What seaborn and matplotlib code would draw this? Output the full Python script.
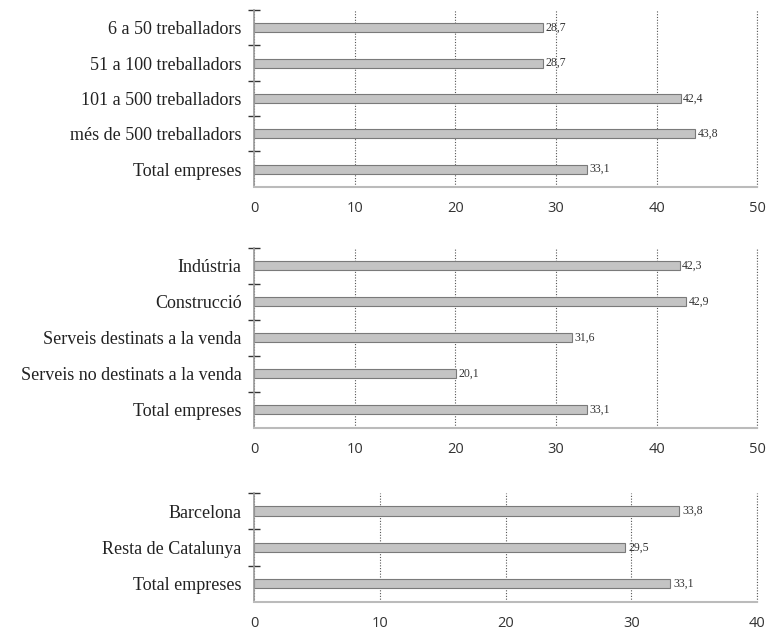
import matplotlib
matplotlib.use("Agg")
import matplotlib.pyplot as plt
import seaborn as sns
import pandas as pd

# Dades de cada bloc
mida_cat = ["6 a 50 treballadors", "51 a 100 treballadors", "101 a 500 treballadors",
            "més de 500 treballadors", "Total empreses"]
mida_val = [28.7, 28.7, 42.4, 43.8, 33.1]

sector_cat = ["Indústria", "Construcció", "Serveis destinats a la venda",
              "Serveis no destinats a la venda", "Total empreses"]
sector_val = [42.3, 42.9, 31.6, 20.1, 33.1]

territori_cat = ["Barcelona", "Resta de Catalunya", "Total empreses"]
territori_val = [33.8, 29.5, 33.1]

blocs = [
    (mida_cat, mida_val, 50, [0.331, 0.704, 0.655, 0.280]),
    (sector_cat, sector_val, 50, [0.331, 0.322, 0.655, 0.285]),
    (territori_cat, territori_val, 40, [0.331, 0.046, 0.655, 0.173]),
]

sns.set_style("white")
serif = ["Liberation Serif", "DejaVu Serif"]
sans = ["Open Sans", "DejaVu Sans"]
grid_style = dict(linestyle=(0, (1, 1.5)), color="#555555", linewidth=0.8)

fig = plt.figure(figsize=(7.68, 6.31), dpi=100)

for cats, vals, xmax, pos in blocs:
    ax = fig.add_axes(pos)
    df = pd.DataFrame({"cat": cats, "val": vals})
    sns.barplot(data=df, x="val", y="cat", orient="h", ax=ax, width=0.25,
                color="#c4c4c4", edgecolor="#7a7a7a", linewidth=0.8, saturation=1)
    for i, v in enumerate(vals):
        ax.text(v + 0.25, i, f"{v:.1f}".replace(".", ","), va="center", ha="left",
                fontsize=8.5, family=serif, color="#333333")
    ax.set_xlim(0, xmax)
    ax.set_ylim(len(cats) - 0.5, -0.5)
    ax.set_xticks(range(0, xmax + 1, 10))
    ax.xaxis.grid(True, **grid_style)
    ax.axvline(xmax, clip_on=False, zorder=0, **grid_style)
    ax.set_axisbelow(True)
    ax.set_xlabel("")
    ax.set_ylabel("")
    for s in ["top", "right"]:
        ax.spines[s].set_visible(False)
    ax.spines["bottom"].set_color("#bbbbbb")
    ax.spines["bottom"].set_linewidth(1.5)
    ax.spines["left"].set_color("#999999")
    ax.spines["left"].set_linewidth(1.2)
    ax.tick_params(axis="x", length=0, labelsize=10.5, labelcolor="#333333", pad=10)
    ax.tick_params(axis="y", length=0, pad=9, labelcolor="#222222")
    for lab in ax.get_xticklabels():
        lab.set_family(sans)
    for lab in ax.get_yticklabels():
        lab.set_family(serif)
        lab.set_fontsize(13)
    # petites marques entre categories
    ax.set_yticks([i - 0.5 for i in range(len(cats))], minor=True)
    ax.tick_params(axis="y", which="minor", left=True, length=9, direction="inout",
                   color="#333333", width=1)

fig.savefig("out.png", dpi=100)
